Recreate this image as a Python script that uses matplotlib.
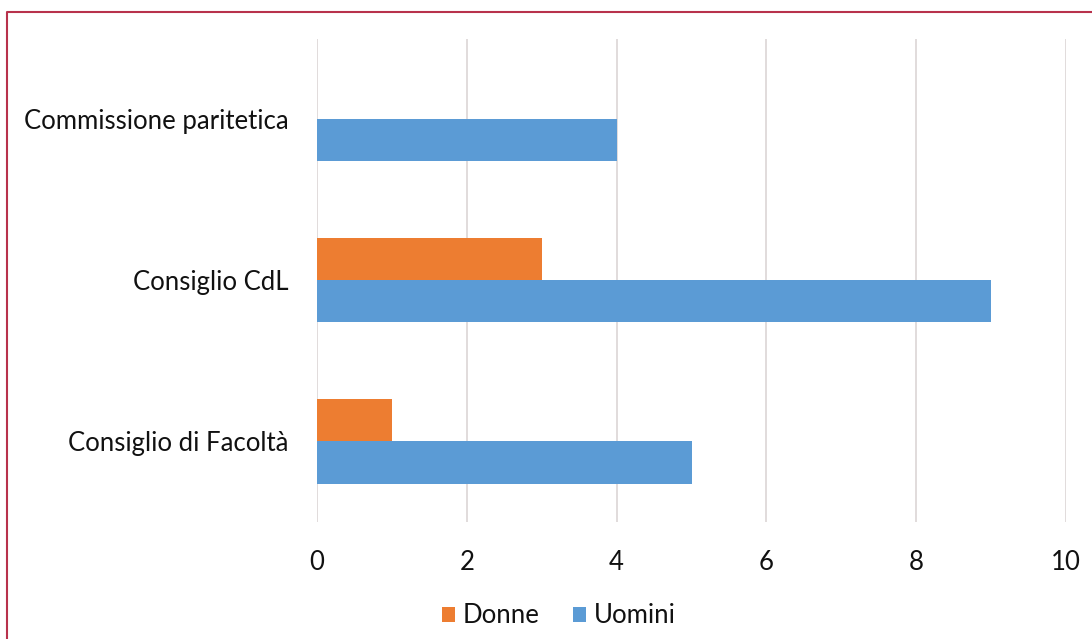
import numpy as np
import matplotlib.pyplot as plt
from matplotlib.lines import Line2D

plt.rcParams['font.family'] = ['Lato', 'DejaVu Sans']

categories = ['Consiglio di Facoltà', 'Consiglio CdL', 'Commissione paritetica']
donne = [1, 3, 0]
uomini = [5, 9, 4]
ticks = [0, 2, 4, 6, 8, 10]

orange = '#ED7D31'
blue = '#5B9BD5'

fig = plt.figure(figsize=(10.92, 6.39), dpi=100)
ax = fig.add_axes([0.2903, 0.1831, 0.6859, 0.7566])

y = np.arange(len(categories))
h = 0.262
ax.barh(y + h / 2, donne, height=h, color=orange, label='Donne', zorder=3)
ax.barh(y - h / 2, uomini, height=h, color=blue, label='Uomini', zorder=3)

ax.set_xlim(0, 10)
ax.set_ylim(-0.5, 2.5)
ax.set_xticks(ticks)
ax.set_xticklabels([str(t) for t in ticks])
ax.set_yticks(y)
ax.set_yticklabels(categories)
ax.tick_params(axis='both', length=0, labelsize=18.5, colors='#111111')
ax.tick_params(axis='x', pad=20)
ax.tick_params(axis='y', pad=20.5)
ax.grid(axis='x', color='#dcd6d6', linewidth=1.2, zorder=0)
for s in ax.spines.values():
    s.set_visible(False)

leg = fig.legend(loc='center', bbox_to_anchor=(0.512, 0.036), ncol=2, frameon=False,
                 fontsize=18.5, handlelength=0.5, handleheight=0.5,
                 handletextpad=0.3, columnspacing=1.3)
for t in leg.get_texts():
    t.set_color('#111111')

# frame line along the top and left edge
fig.add_artist(Line2D([7 / 1092, 7 / 1092, 1], [0, 627 / 639, 627 / 639],
                      color='#b8324c', linewidth=1.5, transform=fig.transFigure))

fig.savefig('out.png', dpi=100)
